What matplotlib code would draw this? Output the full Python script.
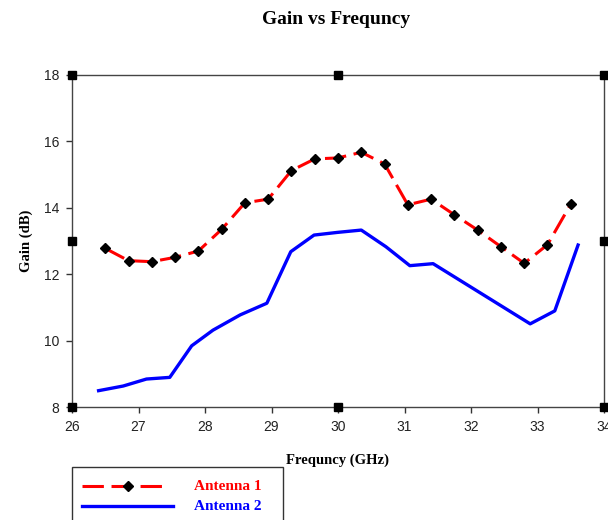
import matplotlib
matplotlib.use("Agg")
import matplotlib.pyplot as plt
from matplotlib.lines import Line2D
from matplotlib.patches import Rectangle

# Antenna 1 (red dashed with markers)
freq1 = [26.5, 26.85, 27.2, 27.55, 27.9, 28.25, 28.6, 28.95, 29.3, 29.65, 30.0,
         30.35, 30.7, 31.05, 31.4, 31.75, 32.1, 32.45, 32.8, 33.15, 33.5]
gain1 = [12.78, 12.41, 12.38, 12.51, 12.70, 13.35, 14.15, 14.26, 15.12, 15.47, 15.50,
         15.67, 15.32, 14.09, 14.26, 13.79, 13.33, 12.83, 12.33, 12.89, 14.11]

# Antenna 2 (blue solid)
freq2 = [26.4, 26.77, 27.12, 27.47, 27.8, 28.12, 28.53, 28.93, 29.29, 29.64, 29.99,
         30.35, 30.72, 31.08, 31.43, 32.89, 33.26, 33.61]
gain2 = [8.50, 8.64, 8.85, 8.90, 9.85, 10.32, 10.78, 11.13, 12.68, 13.18, 13.26,
         13.33, 12.83, 12.26, 12.32, 10.51, 10.90, 12.88]

xticks = [26, 27, 28, 29, 30, 31, 32, 33, 34]
yticks = [8, 10, 12, 14, 16, 18]
labels = ["Antenna 1", "Antenna 2"]

serif = "Liberation Serif"
sans = "Liberation Sans"

fig = plt.figure(figsize=(6.08, 5.20), dpi=100)
ax = fig.add_axes([72 / 608, 1 - 407.3 / 520, 532 / 608, 332.5 / 520])

red_style = dict(color="red", lw=2.2, dashes=(7, 2.5))
ax.plot(freq1, gain1, **red_style, zorder=3)
ax.plot(freq1, gain1, ls="none", marker="D", ms=5, color="black", zorder=4)
ax.plot(freq2, gain2, color="blue", lw=2.4, zorder=3)

ax.set_xlim(26, 34)
ax.set_ylim(8, 18)
ax.set_xticks(xticks)
ax.set_yticks(yticks)
ax.tick_params(direction="out", length=4, width=1, color="#333333",
               labelsize=10, labelcolor="#222222", pad=5)
for lab in ax.get_xticklabels() + ax.get_yticklabels():
    lab.set_fontfamily(sans)
for sp in ax.spines.values():
    sp.set_linewidth(1.0)
    sp.set_color("#444444")

# selection handles at corners / mid-sides
hx = [26, 30, 34, 26, 34, 26, 30, 34]
hy = [18, 18, 18, 13, 13, 8, 8, 8]
ax.plot(hx, hy, ls="none", marker="s", ms=6, color="black", clip_on=False, zorder=5)

ax.set_xlabel("Frequncy (GHz)", fontfamily=serif, fontweight="bold", fontsize=10.5,
              labelpad=14)
ax.set_ylabel("Gain (dB)", fontfamily=serif, fontweight="bold", fontsize=10.5,
              labelpad=8)
fig.text(336 / 608, 1 - 19 / 520, "Gain vs Frequncy", ha="center", va="center",
         fontfamily=serif, fontweight="bold", fontsize=14)

# legend box drawn by hand (runs off bottom of figure)
fig.add_artist(Rectangle((72 / 608, -0.05), (283 - 72) / 608, 0.05 + (520 - 467) / 520,
                         transform=fig.transFigure, fill=False, edgecolor="#333333",
                         lw=1.0, clip_on=False))
y1 = 1 - 486 / 520
y2 = 1 - 506 / 520
fig.add_artist(Line2D([82 / 608, 163 / 608], [y1, y1], transform=fig.transFigure,
                      **red_style))
fig.add_artist(Line2D([128 / 608], [y1], transform=fig.transFigure, ls="none",
                      marker="D", ms=5, color="black"))
fig.add_artist(Line2D([82 / 608, 173 / 608], [y2, y2], transform=fig.transFigure,
                      color="blue", lw=2.4))
fig.text(194 / 608, y1, labels[0], color="red", va="center", fontfamily=serif,
         fontweight="bold", fontsize=11)
fig.text(194 / 608, y2, labels[1], color="blue", va="center", fontfamily=serif,
         fontweight="bold", fontsize=11)

fig.savefig("out.png", dpi=100)
